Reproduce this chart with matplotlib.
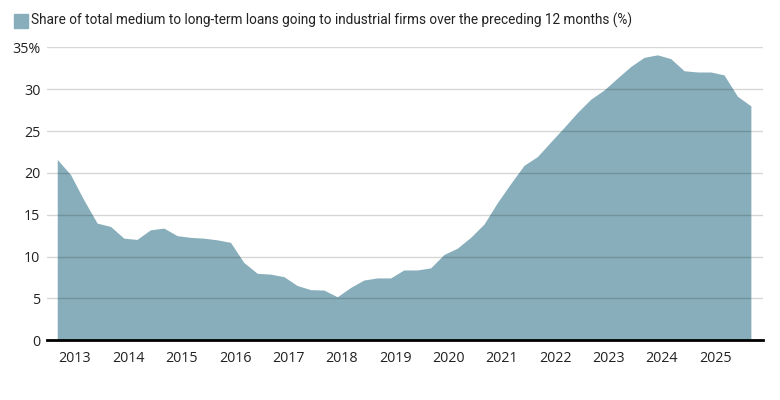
import matplotlib
matplotlib.use("Agg")
import matplotlib.pyplot as plt
import pandas as pd
from matplotlib.patches import Rectangle

plt.rcParams['font.family'] = ['Open Sans', 'DejaVu Sans']

# Quarterly data, Q3 2012 .. Q3 2025
start = "2012-09-01"
values = [21.6, 19.8, 16.8, 14.0, 13.6, 12.2, 12.05, 13.2, 13.4, 12.5,
          12.3, 12.2, 12.0, 11.7, 9.3, 8.0, 7.9, 7.6, 6.55, 6.05,
          6.0, 5.2, 6.3, 7.2, 7.45, 7.45, 8.4, 8.4, 8.65, 10.25,
          11.0, 12.3, 13.9, 16.45, 18.7, 20.9, 21.95, 23.7, 25.4, 27.2,
          28.8, 29.9, 31.3, 32.7, 33.8, 34.1, 33.65, 32.2, 32.05, 32.05,
          31.7, 29.15, 28.0]
yticks = [0, 5, 10, 15, 20, 25, 30, 35]
ytick_labels = ["0", "5", "10", "15", "20", "25", "30", "35%"]
years = list(range(2013, 2026))
legend_label = "Share of total medium to long-term loans going to industrial firms over the preceding 12 months (%)"

dates = pd.date_range(start, periods=len(values), freq="3MS")

W, H = 780, 400
fig = plt.figure(figsize=(W / 100, H / 100), dpi=100)
left, right, top, bottom = 47.3, 763.3, 47.3, 340.3
ax = fig.add_axes([left / W, 1 - bottom / H, (right - left) / W, (bottom - top) / H])

area_color = "#88aebb"
ax.fill_between(dates, values, 0, color=area_color, linewidth=0, zorder=1)

ax.set_ylim(0, 35)
ax.set_xlim(pd.Timestamp("2012-06-25"), pd.Timestamp("2025-11-25"))

ax.set_yticks(yticks)
ax.set_yticklabels(ytick_labels)
ax.set_xticks([pd.Timestamp(f"{y}-01-01") for y in years])
ax.set_xticklabels([str(y) for y in years])

for s in ["top", "right", "left"]:
    ax.spines[s].set_visible(False)
ax.spines["bottom"].set_color("black")
ax.spines["bottom"].set_linewidth(2)
ax.spines["bottom"].set_zorder(5)

ax.grid(axis="y", color="black", alpha=0.16, linewidth=1.0, zorder=3)
ax.set_axisbelow(False)
ax.tick_params(axis="both", length=0, labelsize=10.3, labelcolor="#222222")
ax.tick_params(axis="y", pad=5)
ax.tick_params(axis="x", pad=8)

# legend
fig.patches.append(Rectangle((14 / W, 1 - 28 / H), 14 / W, 14 / H,
                             transform=fig.transFigure, color=area_color, zorder=5))
t = fig.text(31 / W, 1 - 24.5 / H, legend_label, ha="left", va="baseline",
             fontsize=10, color="#222222", family=['Roboto', 'DejaVu Sans'])
fig.canvas.draw()
r = fig.canvas.get_renderer()
w = t.get_window_extent(r).width
t.set_fontsize(10 * 604 / w)

fig.savefig("out.png", dpi=100)
